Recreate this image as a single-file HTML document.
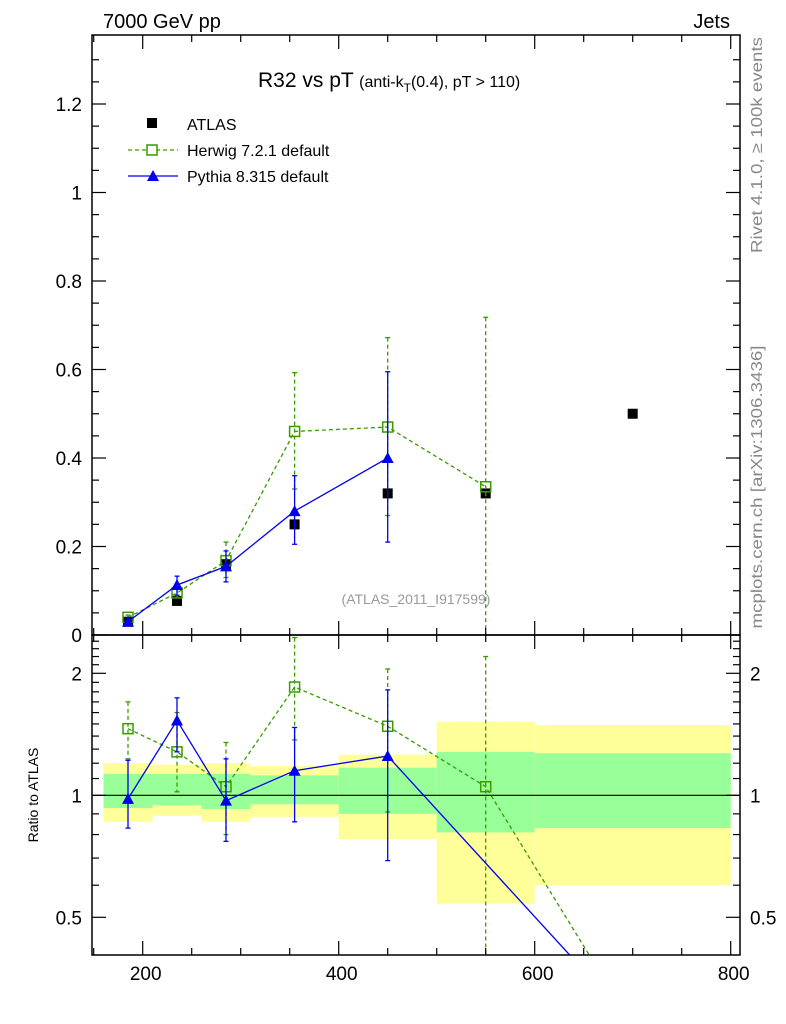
<!DOCTYPE html>
<html><head><meta charset="utf-8">
<style>
html,body{margin:0;background:#fff;width:786px;height:1024px;overflow:hidden;position:relative;}
svg{display:block;font-family:"Liberation Sans",sans-serif;}
</style></head>
<body>
<svg id="c" width="786" height="1024" style="position:absolute;left:0;top:0"></svg>
<script>
const xCats=[185,235,285,355,450,550,700];
const atlasY=[0.03,0.077,0.16,0.25,0.32,0.32,0.50];
const hwX=[185,235,285,355,450,550];
const hwY=[0.040,0.095,0.168,0.46,0.47,0.335];
const hwUp=[0.045,0.105,0.21,0.593,0.672,0.718];
const hwDn=[0.035,0.085,0.13,0.33,0.27,0.0];
const pyX=[185,235,285,355,450];
const pyY=[0.03,0.113,0.155,0.28,0.40];
const pyUp=[0.035,0.133,0.19,0.36,0.595];
const pyDn=[0.025,0.09,0.12,0.205,0.21];
const hwRX=[185,235,285,355,450,550,700];
const hwR=[1.46,1.28,1.05,1.85,1.48,1.05,0.27];
const hwRUp=[1.70,1.60,1.35,2.45,2.05,2.2,0.27];
const hwRDn=[1.23,1.02,0.80,1.37,0.91,0.1,0.27];
const pyRX=[185,235,285,355,450,650];
const pyR=[0.98,1.53,0.97,1.15,1.25,0.37];
const pyRUp=[1.22,1.74,1.23,1.47,1.82,0.37];
const pyRDn=[0.83,1.28,0.77,0.86,0.69,0.37];
const binEdges=[160,210,260,310,400,500,600,800];
const yelLo=[0.86,0.89,0.86,0.885,0.78,0.54,0.60];
const yelHi=[1.20,1.19,1.20,1.18,1.26,1.52,1.49];
const grnLo=[0.93,0.945,0.925,0.95,0.90,0.81,0.83];
const grnHi=[1.13,1.13,1.13,1.12,1.17,1.28,1.27];
const xTicks=[200,400,600,800];
const yTicks=[0,0.2,0.4,0.6,0.8,1,1.2];
const yTickLabels=["0","0.2","0.4","0.6","0.8","1","1.2"];
const rTicks=[0.5,1,2];
const rTickLabels=["0.5","1","2"];

const L=92,R=740,T=35,MB=635,RB=955;
const X=v=>142.7+(v-200)*0.98;
const Y=v=>635-v*442.5;
const RY=v=>795.3-Math.log2(v)*122;
const svg=document.getElementById('c');
const NS='http://www.w3.org/2000/svg';
function mk(tag,at,parent){const e=document.createElementNS(NS,tag);for(const k in at)e.setAttribute(k,at[k]);(parent||svg).appendChild(e);return e;}
function txt(s,x,y,at){const e=mk('text',Object.assign({x:x,y:y},at||{}));e.textContent=s;return e;}

const defs=mk('defs',{});
const c1=mk('clipPath',{id:'cm'},defs);mk('rect',{x:L,y:T,width:R-L,height:MB-T},c1);
const c2=mk('clipPath',{id:'cr'},defs);mk('rect',{x:L,y:MB,width:R-L,height:RB-MB},c2);
const gm=mk('g',{'clip-path':'url(#cm)'});


const gr=mk('g',{'clip-path':'url(#cr)'});



for(let i=0;i<binEdges.length-1;i++){
 const x1=X(binEdges[i]),x2=X(binEdges[i+1]);
 const y=mk('rect',{x:x1,y:RY(yelHi[i]),width:x2-x1,height:RY(yelLo[i])-RY(yelHi[i]),fill:'#ffff99'},gr);
 
 
 const g=mk('rect',{x:x1,y:RY(grnHi[i]),width:x2-x1,height:RY(grnLo[i])-RY(grnHi[i]),fill:'#99ff99'},gr);
 
 
}
mk('line',{x1:L,x2:R,y1:RY(1),y2:RY(1),stroke:'#000','stroke-width':1.2},gr);

function series(g,xs,ys,up,dn,yf,col,dash,marker,name){
 const pts=xs.map((x,i)=>X(x)+','+yf(ys[i])).join(' ');
 const pl=mk('polyline',{points:pts,fill:'none',stroke:col,'stroke-width':1.3,'stroke-dasharray':dash},g);
 
 
 xs.forEach((x,i)=>{
  const px=X(x);
  mk('line',{x1:px,x2:px,y1:yf(up[i]),y2:yf(dn[i]),stroke:col,'stroke-width':1.3,'stroke-dasharray':dash},g);
  mk('line',{x1:px-2.5,x2:px+2.5,y1:yf(up[i]),y2:yf(up[i]),stroke:col,'stroke-width':1.3},g);
  mk('line',{x1:px-2.5,x2:px+2.5,y1:yf(dn[i]),y2:yf(dn[i]),stroke:col,'stroke-width':1.3},g);
  const py=yf(ys[i]);let m;
  if(marker==='sq') m=mk('rect',{x:px-5,y:py-5,width:10,height:10,fill:'none',stroke:col,'stroke-width':1.5},g);
  else m=mk('polygon',{points:`${px-6},${py+5} ${px+6},${py+5} ${px},${py-6}`,fill:col},g);
  
  
 });
}
xCats.forEach((x,i)=>{
 const m=mk('rect',{x:X(x)-5,y:Y(atlasY[i])-5,width:10,height:10,fill:'#000'},gm);
 
 
});
series(gm,hwX,hwY,hwUp,hwDn,Y,'#3a9a00','4,3','sq','herwig');
series(gm,pyX,pyY,pyUp,pyDn,Y,'#0000ee','','tri','pythia');
series(gr,hwRX,hwR,hwRUp,hwRDn,RY,'#3a9a00','4,3','sq','herwig-ratio');
series(gr,pyRX,pyR,pyRUp,pyRDn,RY,'#0000ee','','tri','pythia-ratio');

mk('rect',{x:L,y:T,width:R-L,height:MB-T,fill:'none',stroke:'#000','stroke-width':1.5});
mk('rect',{x:L,y:MB,width:R-L,height:RB-MB,fill:'none',stroke:'#000','stroke-width':1.5});

for(let v=150;v<=800;v+=50){
 const px=X(v);const major=v%200===0;const len=major?14:7;
 [[T,1],[MB,-1],[MB,1],[RB,-1]].forEach(([y0,d])=>mk('line',{x1:px,x2:px,y1:y0,y2:y0+d*len,stroke:'#000','stroke-width':1.2}));
}
xTicks.forEach(v=>{const t=txt(String(v),X(v)+3,980,{'font-size':19,'text-anchor':'middle'});
 });
for(let v=0;v<=1.35;v+=0.05){
 const py=Y(v);const major=Math.abs(v*5-Math.round(v*5))<1e-6;const len=major?14:7;
 mk('line',{x1:L,x2:L+len,y1:py,y2:py,stroke:'#000','stroke-width':1.2});
 mk('line',{x1:R,x2:R-len,y1:py,y2:py,stroke:'#000','stroke-width':1.2});
}
yTicks.forEach((v,i)=>{const t=txt(yTickLabels[i],82,Y(v)+7,{'font-size':19,'text-anchor':'end'});
 });
const rmin=[0.5,0.6,0.7,0.8,0.9,1,1.1,1.2,1.3,1.4,1.5,1.6,1.7,1.8,1.9,2,2.1,2.2,2.3,2.4];
rmin.forEach(v=>{const py=RY(v);const major=(v===0.5||v===1||v===2);const len=major?14:7;
 mk('line',{x1:L,x2:L+len,y1:py,y2:py,stroke:'#000','stroke-width':1.2});
 mk('line',{x1:R,x2:R-len,y1:py,y2:py,stroke:'#000','stroke-width':1.2});});
rTicks.forEach((v,i)=>{
 const t=txt(rTickLabels[i],82,RY(v)+7,{'font-size':19,'text-anchor':'end'});
 
 const t2=txt(rTickLabels[i],750,RY(v)+7,{'font-size':19});
 
});
</script>
<svg width="786" height="1024" style="position:absolute;left:0;top:0;font-family:'Liberation Sans',sans-serif">
<text x="103" y="28" font-size="20">7000 GeV pp</text>
<text x="730" y="28" font-size="20" text-anchor="end">Jets</text>
<text x="258" y="87" font-size="21">R32 vs pT <tspan font-size="16">(anti-k</tspan><tspan font-size="12" dy="5">T</tspan><tspan font-size="16" dy="-5">(0.4), pT &gt; 110)</tspan></text>
<rect x="147" y="118" width="10" height="10" fill="#000"/>
<text x="187" y="130" font-size="16">ATLAS</text>
<line x1="128" x2="178" y1="150" y2="150" stroke="#3a9a00" stroke-width="1.3" stroke-dasharray="4,3"/>
<rect x="147" y="145" width="10" height="10" fill="#fff" stroke="#3a9a00" stroke-width="1.5"/>
<text x="187" y="156" font-size="16">Herwig 7.2.1 default</text>
<line x1="128" x2="178" y1="176" y2="176" stroke="#0000ee" stroke-width="1.3"/>
<polygon points="147,181 159,181 153,170" fill="#0000ee"/>
<text x="187" y="182" font-size="16">Pythia 8.315 default</text>
<text x="416" y="604" font-size="14" fill="#999" text-anchor="middle">(ATLAS_2011_I917599)</text>
<text transform="translate(38,795) rotate(-90)" font-size="14" text-anchor="middle">Ratio to ATLAS</text>
<text transform="translate(762,145) rotate(-90)" font-size="16" fill="#888" text-anchor="middle" textLength="216" lengthAdjust="spacingAndGlyphs">Rivet 4.1.0, ≥ 100k events</text>
<text transform="translate(762,487) rotate(-90)" font-size="16" fill="#888" text-anchor="middle" textLength="283" lengthAdjust="spacingAndGlyphs">mcplots.cern.ch [arXiv:1306.3436]</text>
</svg>
</body></html>
